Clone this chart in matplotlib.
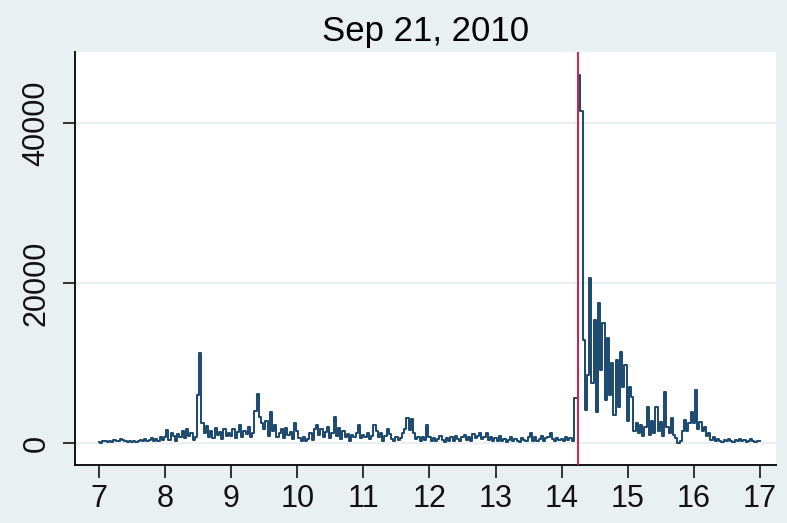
"""Intraday volume series for Sep 21, 2010 (Stata-style line plot)."""

import numpy as np
import matplotlib
matplotlib.use("Agg")
import matplotlib.pyplot as plt

# values every 2 minutes, one list per hour (hh:00 .. hh:58)
hour_07 = [100, 0, 200, 300, 100, 250, 150, 400, 300, 200, 450, 350, 200, 100, 300,
           150, 250, 100, 200, 400, 300, 500, 250, 350, 600, 200, 450, 300, 700, 400]
hour_08 = [800, 1600, 400, 1200, 900, 300, 1100, 700, 1500, 600, 1800, 900, 1300, 400, 800,
           6000, 11300, 2500, 1200, 2100, 800, 1500, 600, 1900, 1000, 1400, 500, 1700, 900, 1200]
hour_09 = [900, 1800, 600, 1400, 2300, 800, 1500, 1100, 2000, 700, 1300, 4000, 6100, 3200, 2500,
           1800, 2800, 900, 3900, 1500, 2200, 800, 1200, 1700, 600, 1900, 1000, 1400, 500, 2500]
hour_10 = [1500, 600, 300, 800, 200, 500, 1200, 400, 1700, 2300, 1000, 1800, 700, 1400, 2000,
           600, 1300, 3300, 900, 1900, 500, 1500, 800, 1100, 300, 1000, 700, 1300, 2250, 600]
hour_11 = [1000, 700, 1200, 500, 900, 2250, 1500, 800, 1200, 300, 900, 1700, 1100, 500, 300,
           700, 400, 600, 1300, 1800, 3100, 1600, 3000, 1200, 500, 800, 300, 700, 400, 2250]
hour_12 = [800, 300, 600, 200, 500, 900, 400, 100, 600, 300, 700, 200, 900, 500, 300,
           800, 1000, 400, 700, 300, 1100, 600, 900, 1200, 500, 800, 1200, 400, 700, 300]
hour_13 = [600, 200, 900, 300, 500, 100, 400, 700, 200, 500, 300, 100, 600, 400, 200,
           800, 1200, 300, 700, 200, 500, 900, 300, 600, 800, 1300, 500, 200, 600, 400]
hour_14 = [500, 300, 800, 400, 600, 300, 5600, 5600, 46000, 41500, 12900, 4100, 8500, 20600, 7500,
           15400, 3900, 17500, 9100, 15000, 5400, 13100, 6000, 10000, 3500, 10400, 4500, 11400, 7000, 9800]
hour_15 = [2700, 7000, 5800, 1500, 2500, 1200, 2200, 900, 2000, 4500, 1000, 2800, 1300, 4500, 1500,
           2600, 900, 6400, 2000, 1200, 3100, 1000, 600, 0, 300, 1500, 2900, 1500, 2500, 3900]
hour_16 = [2500, 6600, 1800, 2600, 1500, 2000, 900, 1200, 400, 700, 200, 500, 300, 100, 400,
           200, 500, 300, 100, 400, 300, 500, 200, 400, 100, 300, 500, 200, 100, 300]
close_17 = [200]

event_time = 14.25
title = "Sep 21, 2010"
x_ticks = list(range(7, 18))
y_ticks = [0, 20000, 40000]

volume = np.array(hour_07 + hour_08 + hour_09 + hour_10 + hour_11 + hour_12
                  + hour_13 + hour_14 + hour_15 + hour_16 + close_17, dtype=float)
times = 7 + np.arange(len(volume)) * 2 / 60

BG = "#e8f0f1"
NAVY = "#1a476f"
RED = "#dc1f4b"
GRID = "#eaf0f2"

plt.rcParams["font.family"] = ["Liberation Sans", "DejaVu Sans"]

fig = plt.figure(figsize=(7.87, 5.23), dpi=100, facecolor=BG)
ax = fig.add_axes([75 / 787, 1 - 465 / 523, (776 - 75) / 787, (465 - 52) / 523])
ax.set_facecolor("white")

ax.plot(times, volume, color=NAVY, lw=1.4, drawstyle="steps-mid", zorder=3)
ax.axvline(event_time, color=RED, lw=1.4, zorder=4)

ax.set_xlim(6.637, 17.242)
ax.set_ylim(-2750, 48875)
ax.set_xticks(x_ticks)
ax.set_yticks(y_ticks)
ax.set_yticklabels([str(v) for v in y_ticks], rotation=90, va="center")
ax.grid(axis="y", color=GRID, lw=1.5, zorder=0)
ax.tick_params(axis="both", labelsize=22, length=9, width=1.2, colors="#111111")
ax.tick_params(axis="x", pad=5)
ax.tick_params(axis="y", pad=8)

for side in ("top", "right"):
    ax.spines[side].set_visible(False)
for side in ("left", "bottom"):
    ax.spines[side].set_linewidth(1.4)
    ax.spines[side].set_color("#111111")

ax.set_title(title, fontsize=25, pad=8)

fig.savefig("out.png", dpi=100, facecolor=BG)
